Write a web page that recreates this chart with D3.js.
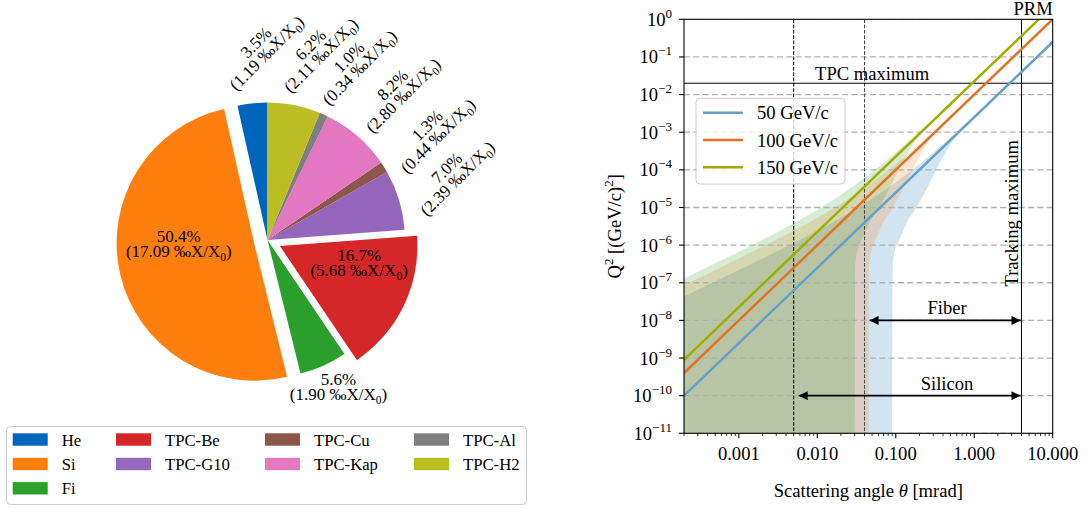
<!DOCTYPE html>
<html>
<head>
<meta charset="utf-8">
<script src="https://cdn.jsdelivr.net/npm/d3@7"></script>
<style>
  body { margin: 0; background: #fff; }
  svg text { font-family: "Liberation Serif", "Times New Roman", serif; fill: #000; }
</style>
</head>
<body>
<svg id="fig" width="1088" height="509"></svg>
<script>
// ---------- left panel: material budget pie ----------
const materials = ["He", "Si", "Fi", "TPC-Be", "TPC-G10", "TPC-Cu", "TPC-Kap", "TPC-Al", "TPC-H2"];
const radLength = [1.19, 17.09, 1.90, 5.68, 2.39, 0.44, 2.80, 0.34, 2.11]; // per mille X/X0
const materialColors = ["#0065bd", "#ff7f0e", "#2ca02c", "#d62728", "#9467bd",
                        "#8c564b", "#e377c2", "#7f7f7f", "#bcbd22"];
const explodedMaterials = ["Si", "TPC-Be"];

// ---------- right panel: Q2 vs scattering angle ----------
const momenta = ["50 GeV/c", "100 GeV/c", "150 GeV/c"];
const lineColors = ["#64a0c8", "#e37222", "#a2ad00"];
const bandColors = ["#1f77b4", "#ff7f0e", "#2ca02c"];

// [theta mrad, Q2 (GeV/c)^2]
const line50 = [[0.0002, 1e-10], [10, 0.25]];
const line100 = [[0.0002, 4e-10], [10, 1.0]];
const line150 = [[0.0002, 9e-10], [10, 2.25]];

// resolution bands, upper and lower edges
const upper50 = [[0.0002, 4.3e-8], [0.001, 2.18e-7], [0.002, 4.4e-7], [0.003, 6.7e-7], [0.005, 1.14e-6],
  [0.01, 2.4e-6], [0.02, 5.3e-6], [0.03, 8.7e-6], [0.05, 1.7e-5], [0.1, 4.65e-5], [0.2, 1.43e-4],
  [0.3, 2.9e-4], [0.5, 7.33e-4], [1, 2.72e-3], [3, 2.31e-2], [10, 0.252]];
const lower50 = [[0.0002, 1e-11], [0.091, 1e-11], [0.0911, 2.15e-7], [0.0946, 5.4e-7], [0.1033, 9.9e-7],
  [0.1162, 1.73e-6], [0.1386, 4.07e-6], [0.1753, 8.48e-6], [0.2423, 2.88e-5], [0.3251, 9.82e-5],
  [0.4114, 2.46e-4], [0.5203, 5.62e-4], [0.6985, 1.17e-3], [1, 2.42e-3], [2, 9.85e-3], [10, 0.249]];

const upper100 = [[0.0002, 8.6e-8], [0.001, 4.4e-7], [0.002, 9.0e-7], [0.003, 1.38e-6], [0.005, 2.4e-6],
  [0.01, 5.3e-6], [0.02, 1.26e-5], [0.03, 2.19e-5], [0.05, 4.65e-5], [0.1, 1.43e-4], [0.2, 4.86e-4],
  [0.3, 1.03e-3], [0.5, 2.72e-3], [1, 1.04e-2], [3, 0.0913], [10, 1.004]];
const lower100 = [[0.0002, 1e-11], [0.0455, 1e-11], [0.04555, 2.15e-7], [0.0473, 5.4e-7], [0.05165, 9.9e-7],
  [0.0581, 1.73e-6], [0.0693, 4.07e-6], [0.08765, 8.48e-6], [0.12115, 2.88e-5], [0.16255, 9.82e-5],
  [0.2057, 2.46e-4], [0.26015, 5.62e-4], [0.34925, 1.17e-3], [0.5, 2.42e-3], [1, 9.85e-3], [5, 0.249],
  [10, 0.996]];

const upper150 = [[0.0002, 1.3e-7], [0.001, 6.7e-7], [0.002, 1.38e-6], [0.003, 2.14e-6], [0.005, 3.79e-6],
  [0.01, 8.7e-6], [0.02, 2.19e-5], [0.03, 3.97e-5], [0.05, 8.85e-5], [0.1, 2.9e-4], [0.2, 1.03e-3],
  [0.3, 2.22e-3], [0.5, 5.95e-3], [1, 2.31e-2], [3, 0.204], [10, 2.26]];
const lower150 = [[0.0002, 1e-11], [0.03033, 1e-11], [0.03037, 2.15e-7], [0.03153, 5.4e-7], [0.03443, 9.9e-7],
  [0.03873, 1.73e-6], [0.0462, 4.07e-6], [0.05843, 8.48e-6], [0.08077, 2.88e-5], [0.10837, 9.82e-5],
  [0.13713, 2.46e-4], [0.17343, 5.62e-4], [0.23283, 1.17e-3], [0.3333, 2.42e-3], [0.6667, 9.85e-3],
  [3.333, 0.249], [10, 2.24]];

const xTickValues = [0.001, 0.01, 0.1, 1, 10];
const xTickLabels = ["0.001", "0.010", "0.100", "1.000", "10.000"];
const yTickExponents = [0, -1, -2, -3, -4, -5, -6, -7, -8, -9, -10, -11];

const tpcMaxQ2 = 0.02;
const trackingMaxTheta = 4;
const siliconRange = [0.005, 4];
const fiberRange = [0.04, 4];
const siliconQ2 = 1e-10;
const fiberQ2 = 1e-8;

const svg = d3.select("#fig");
const defs = svg.append("defs");

// ===================== PIE =====================
function drawPie() {
  const cx = 267.5, cy = 240, R = 137.5;
  const total = d3.sum(radLength);
  const rows = materials.map((m, i) => ({ name: m, value: radLength[i], color: materialColors[i] }));

  // start at 12 o'clock, counter-clockwise
  const pie = d3.pie().value(d => d.value).sort(null).startAngle(0).endAngle(-2 * Math.PI);
  const arcs = pie(rows);
  const arc = d3.arc().innerRadius(0).outerRadius(R);

  const g = svg.append("g").attr("transform", `translate(${cx},${cy})`);

  arcs.forEach(a => {
    const mid = (a.startAngle + a.endAngle) / 2;
    const dir = [Math.sin(mid), -Math.cos(mid)];
    const isOut = explodedMaterials.includes(a.data.name);
    const off = isOut ? 0.1 * R : 0;
    g.append("path")
      .attr("d", arc(a))
      .attr("transform", `translate(${dir[0] * off},${dir[1] * off})`)
      .attr("fill", a.data.color);

    const pct = (a.data.value / total * 100).toFixed(1) + "%";
    let px, py, rot = 0;
    if (isOut) {
      px = dir[0] * (off + 0.6 * R) + 5;
      py = dir[1] * (off + 0.6 * R) - 18;
    } else if (dir[1] > 0) {
      px = dir[0] * 1.2 * R + 4;
      py = dir[1] * 1.2 * R - 3;
    } else {
      rot = -45;
      px = dir[0] * 1.3 * R + 14;
      py = dir[1] * 1.3 * R - 14;
    }
    const t = g.append("text")
      .attr("transform", `translate(${px},${py}) rotate(${rot})`)
      .attr("text-anchor", "middle")
      .style("font-size", "17px");
    t.append("tspan").attr("x", 0).attr("y", -2.5).text(pct);
    t.append("tspan").attr("x", 0).attr("y", 12.5).text(`(${a.data.value.toFixed(2)} \u2030X/X`);
    t.append("tspan").attr("dy", 4).style("font-size", "11.5px").text("0");
    t.append("tspan").attr("dy", -4).text(")");
  });

  // legend (4 columns, filled column-first)
  const lg = svg.append("g");
  lg.append("rect").attr("x", 6.5).attr("y", 426.5).attr("width", 520).attr("height", 78)
    .attr("rx", 4).attr("fill", "#fff").attr("stroke", "#cccccc").attr("stroke-width", 1);
  const nCol = 4, nRow = Math.ceil(materials.length / nCol);
  const colX = [12.7, 116, 265, 414];
  const rowY = [439.5, 464, 488.3];
  const full = materials.length % nCol || nCol;
  let idx = 0;
  for (let c = 0; c < nCol; c++) {
    const n = c < full ? nRow : nRow - 1;
    for (let r = 0; r < n; r++, idx++) {
      lg.append("rect").attr("x", colX[c]).attr("y", rowY[r] - 6.2)
        .attr("width", 35).attr("height", 12.4).attr("fill", materialColors[idx]);
      lg.append("text").attr("x", colX[c] + 49).attr("y", rowY[r] + 6)
        .style("font-size", "16.7px").text(materials[idx]);
    }
  }
}

// ===================== Q2 PLOT =====================
function drawQ2() {
  const L = 684, Rr = 1052.7, T = 19.3, B = 433.3;
  const x = d3.scaleLog().domain([0.0002, 10]).range([L, Rr]);
  const y = d3.scaleLog().domain([1e-11, 1]).range([B, T]);
  const fs = "18.6px";

  defs.append("clipPath").attr("id", "plotClip")
    .append("rect").attr("x", L).attr("y", T).attr("width", Rr - L).attr("height", B - T);

  const plot = svg.append("g").attr("clip-path", "url(#plotClip)");

  const curve = d3.line()
    .x(d => x(d[0]))
    .y(d => y(Math.max(d[1], 1e-11)))
    .curve(d3.curveMonotoneX);

  // band = upper edge out, lower edge back
  const bands = [[upper50, lower50], [upper100, lower100], [upper150, lower150]];
  bands.forEach(([up, lo], i) => {
    const top = curve(up);
    const bot = curve(lo.slice().reverse());
    plot.append("path")
      .attr("d", top + "L" + bot.slice(1) + "Z")
      .attr("fill", bandColors[i]).attr("fill-opacity", 0.2);
  });

  // horizontal grid
  yTickExponents.forEach(e => {
    plot.append("line").attr("x1", L).attr("x2", Rr)
      .attr("y1", y(Math.pow(10, e))).attr("y2", y(Math.pow(10, e)))
      .attr("stroke", "#b0b0b0").attr("stroke-width", 1.3).attr("stroke-dasharray", "6,3.3");
  });

  // detector acceptance markers
  plot.append("line").attr("x1", x(siliconRange[0])).attr("x2", x(siliconRange[0]))
    .attr("y1", T).attr("y2", B).attr("stroke", "#000").attr("stroke-width", 1)
    .attr("stroke-dasharray", "3.7,1.6");
  plot.append("line").attr("x1", x(fiberRange[0])).attr("x2", x(fiberRange[0]))
    .attr("y1", T).attr("y2", B).attr("stroke", "#444").attr("stroke-width", 1)
    .attr("stroke-dasharray", "3.7,1.6");
  plot.append("line").attr("x1", x(trackingMaxTheta)).attr("x2", x(trackingMaxTheta))
    .attr("y1", T).attr("y2", B).attr("stroke", "#000").attr("stroke-width", 1);
  plot.append("line").attr("x1", L).attr("x2", Rr)
    .attr("y1", y(tpcMaxQ2)).attr("y2", y(tpcMaxQ2)).attr("stroke", "#000").attr("stroke-width", 1);

  // Q2 lines
  [line50, line100, line150].forEach((ln, i) => {
    plot.append("path").attr("d", d3.line().x(d => x(d[0])).y(d => y(d[1]))(ln))
      .attr("fill", "none").attr("stroke", lineColors[i]).attr("stroke-width", 2.5);
  });

  // axes frame
  svg.append("rect").attr("x", L).attr("y", T).attr("width", Rr - L).attr("height", B - T)
    .attr("fill", "none").attr("stroke", "#000").attr("stroke-width", 1.1);

  // y ticks
  yTickExponents.forEach(e => {
    const yy = y(Math.pow(10, e));
    svg.append("line").attr("x1", L - 4.9).attr("x2", L).attr("y1", yy).attr("y2", yy)
      .attr("stroke", "#000").attr("stroke-width", 1.1);
    const t = svg.append("text").attr("x", L - 12).attr("y", yy + 6.5)
      .attr("text-anchor", "end").style("font-size", fs);
    t.append("tspan").text("10");
    t.append("tspan").attr("dy", -8).style("font-size", "13px")
      .text(e === 0 ? "0" : "\u2212" + Math.abs(e));
  });

  // x ticks (major + minor)
  const minor = [];
  for (let e = -4; e <= 0; e++) for (let m = 2; m <= 9; m++) {
    const v = m * Math.pow(10, e);
    if (v >= 0.0002 && v <= 10) minor.push(v);
  }
  minor.forEach(v => {
    svg.append("line").attr("x1", x(v)).attr("x2", x(v)).attr("y1", B).attr("y2", B + 2.8)
      .attr("stroke", "#000").attr("stroke-width", 0.8);
  });
  xTickValues.forEach((v, i) => {
    svg.append("line").attr("x1", x(v)).attr("x2", x(v)).attr("y1", B).attr("y2", B + 4.9)
      .attr("stroke", "#000").attr("stroke-width", 1.1);
    svg.append("text").attr("x", x(v)).attr("y", B + 27).attr("text-anchor", "middle")
      .style("font-size", fs).text(xTickLabels[i]);
  });

  // axis labels
  const xl = svg.append("text").attr("x", (L + Rr) / 2).attr("y", 497)
    .attr("text-anchor", "middle").style("font-size", fs);
  xl.append("tspan").text("Scattering angle ");
  xl.append("tspan").style("font-style", "italic").text("\u03b8");
  xl.append("tspan").text(" [mrad]");

  const yl = svg.append("text")
    .attr("transform", `translate(621,${(T + B) / 2}) rotate(-90)`)
    .attr("text-anchor", "middle").style("font-size", fs);
  yl.append("tspan").text("Q");
  yl.append("tspan").attr("dy", -8).style("font-size", "13px").text("2");
  yl.append("tspan").attr("dy", 8).text(" [(GeV/c)");
  yl.append("tspan").attr("dy", -8).style("font-size", "13px").text("2");
  yl.append("tspan").attr("dy", 8).text("]");

  // annotations
  svg.append("text").attr("x", x(0.05)).attr("y", y(tpcMaxQ2) - 3.5)
    .attr("text-anchor", "middle").style("font-size", fs).text("TPC maximum");
  svg.append("text").attr("x", x(10)).attr("y", T - 4.8)
    .attr("text-anchor", "end").style("font-size", fs).text("PRM");
  svg.append("text")
    .attr("transform", `translate(${x(trackingMaxTheta) - 3.5},${y(7e-6)}) rotate(-90)`)
    .attr("text-anchor", "middle").style("font-size", fs).text("Tracking maximum");

  defs.append("marker").attr("id", "ah").attr("viewBox", "0 0 10 10")
    .attr("refX", 10).attr("refY", 5).attr("markerWidth", 10).attr("markerHeight", 9)
    .attr("markerUnits", "userSpaceOnUse").attr("orient", "auto-start-reverse")
    .append("path").attr("d", "M0,0L10,5L0,10Z").attr("fill", "#000");

  [[fiberRange, fiberQ2, "Fiber"], [siliconRange, siliconQ2, "Silicon"]].forEach(([rng, q, name]) => {
    const yy = y(q);
    svg.append("line").attr("x1", x(rng[0]) + 5).attr("x2", x(rng[1]) - 1)
      .attr("y1", yy).attr("y2", yy).attr("stroke", "#000").attr("stroke-width", 1.6)
      .attr("marker-start", "url(#ah)").attr("marker-end", "url(#ah)");
    svg.append("text").attr("x", x(0.45)).attr("y", yy - 6).attr("text-anchor", "middle")
      .style("font-size", fs).text(name);
  });

  // legend
  const lg = svg.append("g");
  lg.append("rect").attr("x", 696).attr("y", 98.3).attr("width", 149).attr("height", 85.7)
    .attr("rx", 4).attr("fill", "#fff").attr("fill-opacity", 0.8)
    .attr("stroke", "#cccccc").attr("stroke-width", 1);
  momenta.forEach((m, i) => {
    const yy = 112.7 + i * 27.3;
    lg.append("line").attr("x1", 703).attr("x2", 743).attr("y1", yy).attr("y2", yy)
      .attr("stroke", lineColors[i]).attr("stroke-width", 2.5);
    lg.append("text").attr("x", 757).attr("y", yy + 6.5).style("font-size", fs).text(m);
  });
}

drawPie();
drawQ2();
</script>
</body>
</html>
